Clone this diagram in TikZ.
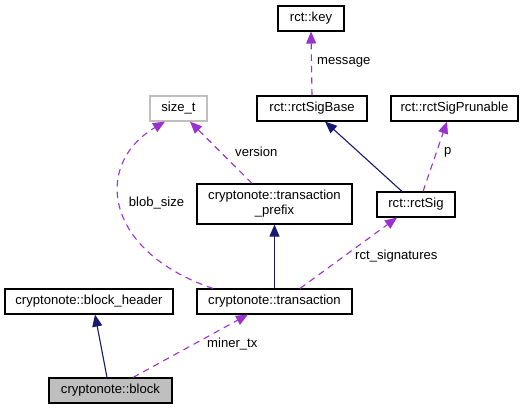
\documentclass[tikz,border=0pt]{standalone}
\usepackage{fontspec}
\setmainfont{Liberation Sans}
\usetikzlibrary{arrows.meta}
\definecolor{inhblue}{HTML}{191970}
\definecolor{usepurple}{HTML}{9A32CD}
\definecolor{boxgray}{HTML}{BFBFBF}
\newcommand{\dfont}{\fontsize{13.1}{15}\selectfont}
\begin{document}
\begin{tikzpicture}[x=1pt,y=-1pt,
  cls/.style={draw=black, line width=1.1pt, fill=white, inner sep=0pt,
    minimum height=25pt, font=\dfont, text=black, text height=9.5pt, text depth=2.8pt},
  inh/.style={draw=inhblue, line width=1.1pt, -{Triangle[length=12pt,width=10pt]}},
  use/.style={draw=usepurple, line width=1.1pt, dash pattern=on 6.5pt off 5pt,
    -{Triangle[length=12pt,width=10pt]}},
  lbl/.style={font=\dfont, inner sep=0pt, anchor=west, text=black}]
\useasboundingbox (0,0) rectangle (527,409);

% nodes
\node[cls, minimum width=66pt] (key) at (311,18.5) {rct::key};
\node[cls, minimum width=110pt] (sigbase) at (312,108.5) {rct::rctSigBase};
\node[cls, minimum width=127pt] (prunable) at (454.5,108.5) {rct::rctSigPrunable};
\node[cls, draw=boxgray, minimum width=57pt] (sizet) at (178.5,108.5) {size\_t};
\node[cls, minimum width=155pt, minimum height=40pt, align=center, text height=, text depth=]
  (prefix) at (274.5,204) {cryptonote::transaction\\\_prefix};
\node[cls, minimum width=78pt] (rctsig) at (416,204.5) {rct::rctSig};
\node[cls, minimum width=168pt] (header) at (89,301.5) {cryptonote::block\_header};
\node[cls, minimum width=155pt] (tx) at (274.5,301.5) {cryptonote::transaction};
\node[cls, fill=boxgray, minimum width=123pt] (block) at (110.5,390.5) {cryptonote::block};

% edges
\draw[use] (sigbase.north) -- (key.south);
\draw[inh] ([xshift=-14pt]rctsig.north) -- ([xshift=13pt]sigbase.south);
\draw[use] ([xshift=7pt]rctsig.north) -- ([xshift=-7.5pt]prunable.south);
\draw[use] ([xshift=-22.5pt]prefix.north) -- ([xshift=11.5pt]sizet.south);
\draw[use] ([xshift=-61.5pt]tx.north) .. controls (105,252) and (92,165) .. ([xshift=-13.5pt]sizet.south);
\draw[inh] (tx.north) -- (prefix.south);
\draw[use] ([xshift=25.5pt]tx.north) -- ([xshift=-19pt]rctsig.south);
\draw[inh] ([xshift=-3.5pt]block.north) -- ([xshift=6pt]header.south);
\draw[use] ([xshift=22.5pt]block.north) -- ([xshift=-26.5pt]tx.south);

% labels
\node[lbl] (lmessage) at (317,62) {message};
\node[lbl] (lp) at (444,152) {p};
\node[lbl] (lversion) at (235,152) {version};
\node[lbl, anchor=center] (lblob) at (156.5,203) {blob\_size};
\node[lbl] (lrct) at (355,256) {rct\_signatures};
\node[lbl] (lminer) at (207,344) {miner\_tx};
\end{tikzpicture}
\end{document}
